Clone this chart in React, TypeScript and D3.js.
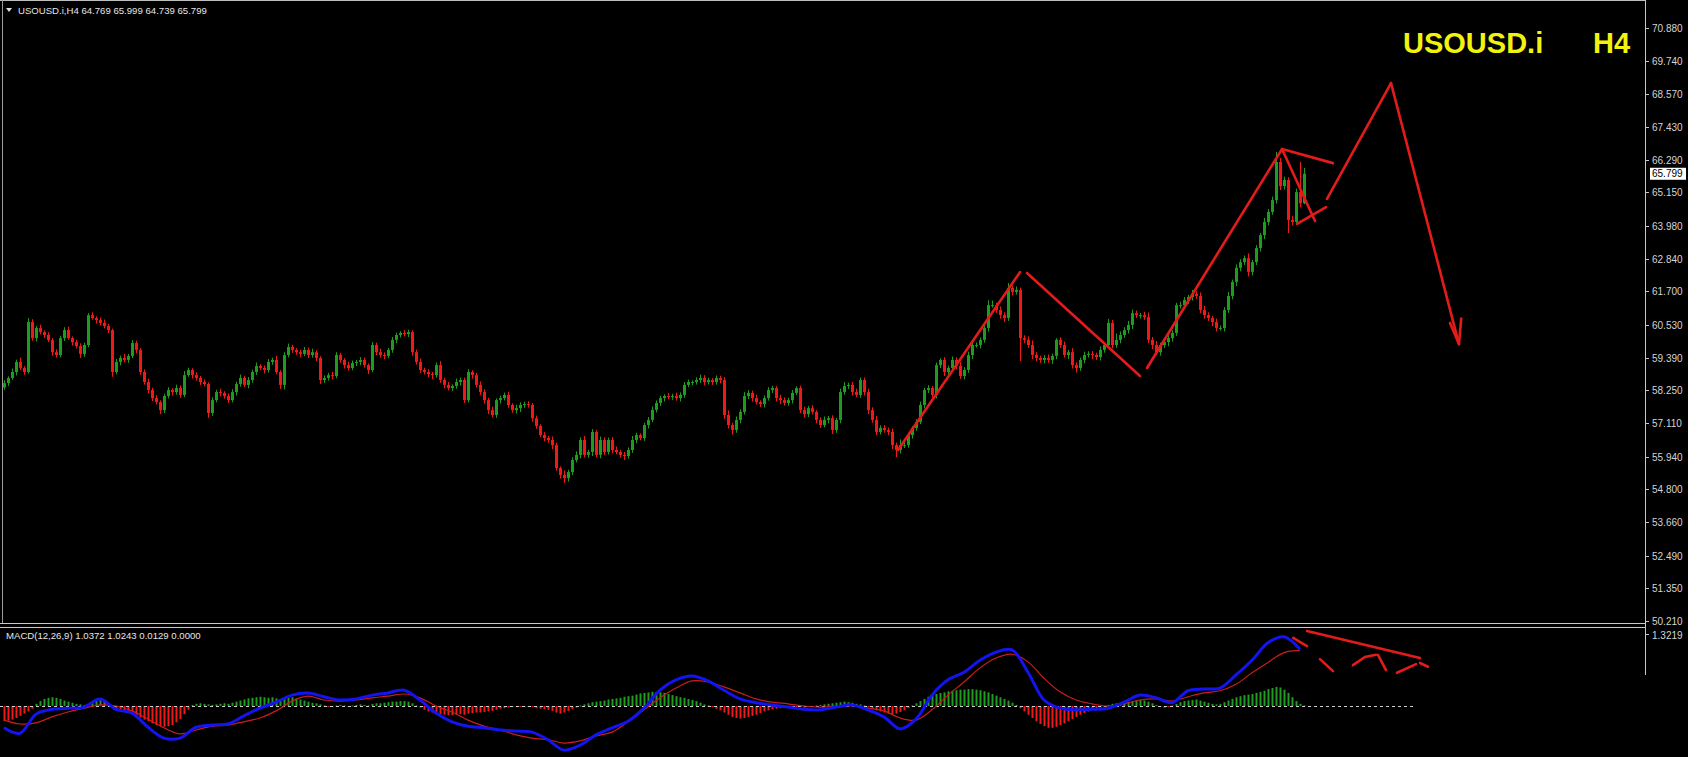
import React from "react";
import * as d3 from "d3";

const W = 1688;
const H = 757;

// ---------- DATA ----------
const symbolHeader = "USOUSD.i,H4  64.769 65.999 64.739 65.799";
const macdHeader = "MACD(12,26,9) 1.0372 1.0243 0.0129 0.0000";
const titleSymbol = "USOUSD.i";
const titleTf = "H4";
const lastPrice = 65.799;
const firstOpen = 58.35;

const closes = [
  58.50, 58.68, 58.89, 59.24, 59.03, 58.89, 60.63, 60.07, 60.42, 60.28, 60.18, 60.00, 59.58, 59.48, 60.07, 60.35, 60.07, 59.93, 59.79, 59.52,
  59.83, 60.87, 60.77, 60.70, 60.60, 60.49, 60.35, 58.89, 59.24, 59.38, 59.31, 59.45, 59.90, 59.66, 58.89, 58.54, 58.26, 57.98, 57.84, 57.56,
  58.05, 58.26, 58.19, 58.33, 58.09, 58.78, 58.96, 58.78, 58.68, 58.54, 58.47, 57.46, 57.91, 58.19, 58.16, 58.05, 57.91, 58.19, 58.47, 58.68,
  58.44, 58.61, 58.89, 59.10, 59.03, 58.96, 59.24, 59.31, 58.89, 58.44, 59.48, 59.76, 59.66, 59.58, 59.52, 59.66, 59.48, 59.58, 59.38, 58.61,
  58.68, 58.78, 58.75, 59.48, 59.31, 59.13, 59.03, 59.20, 59.24, 59.31, 59.13, 58.96, 59.83, 59.58, 59.48, 59.45, 59.66, 60.01, 60.18, 60.25,
  60.21, 60.28, 59.58, 59.24, 58.96, 58.89, 58.82, 58.78, 59.13, 58.61, 58.44, 58.33, 58.40, 58.54, 58.61, 57.91, 58.89, 58.78, 58.44, 58.19,
  57.91, 57.56, 57.39, 57.91, 57.98, 58.09, 57.74, 57.56, 57.63, 57.74, 57.77, 57.74, 57.28, 57.01, 56.69, 56.59, 56.52, 56.34, 55.54, 55.30,
  55.19, 55.40, 55.82, 56.00, 56.52, 56.00, 56.10, 56.80, 56.00, 56.52, 56.10, 56.52, 56.17, 56.10, 56.00, 55.96, 56.17, 56.52, 56.69, 56.59,
  57.04, 57.22, 57.57, 57.81, 57.98, 58.05, 58.02, 58.05, 57.98, 58.09, 58.44, 58.54, 58.54, 58.61, 58.68, 58.54, 58.61, 58.54, 58.68, 58.61,
  57.39, 57.04, 56.87, 57.22, 57.50, 58.05, 58.16, 57.98, 57.84, 57.77, 57.98, 58.26, 58.33, 57.98, 57.91, 57.81, 57.91, 58.16, 58.33, 57.56,
  57.42, 57.63, 57.50, 57.22, 57.04, 57.22, 57.28, 56.87, 57.22, 58.19, 58.40, 58.44, 58.19, 58.09, 58.61, 58.19, 57.56, 57.22, 56.80, 56.94,
  56.87, 56.80, 56.34, 56.17, 56.34, 56.34, 56.69, 56.94, 57.15, 57.74, 58.26, 58.33, 58.09, 59.13, 59.31, 58.89, 59.03, 59.31, 59.10, 58.75,
  58.96, 59.48, 59.83, 59.83, 60.01, 60.42, 61.22, 61.22, 61.05, 60.87, 60.77, 61.82, 61.68, 61.75, 60.07, 60.01, 59.83, 59.48, 59.38, 59.31,
  59.38, 59.31, 59.45, 60.01, 59.83, 59.48, 59.58, 59.13, 59.03, 59.31, 59.48, 59.52, 59.48, 59.41, 59.66, 59.83, 60.60, 59.83, 60.01, 60.18,
  60.35, 60.53, 60.94, 60.87, 60.87, 60.80, 60.01, 59.83, 59.58, 59.83, 59.93, 60.07, 60.25, 61.22, 61.22, 61.40, 61.50, 61.61, 61.54, 61.05,
  60.87, 60.77, 60.63, 60.42, 60.42, 61.05, 61.54, 62.03, 62.52, 62.72, 62.86, 62.38, 62.72, 63.21, 63.66, 64.12, 64.47, 64.88, 66.21, 65.37,
  65.58, 64.19, 64.12, 65.16, 64.77, 65.80,
];

// wick extensions beyond the body, in hundredths of a price unit
const wickUp = [
  10, 6, 12, 8, 15, 6, 14, 10, 8, 12, 6, 9, 7, 10, 8, 10, 12, 6, 8, 10,
  8, 7, 10, 6, 9, 12, 8, 5, 10, 8, 14, 7, 10, 8, 6, 9, 12, 8, 10, 6,
  8, 10, 6, 12, 9, 14, 8, 6, 10, 7, 9, 6, 10, 8, 12, 6, 9, 10, 8, 12,
  7, 10, 8, 12, 6, 9, 10, 8, 14, 6, 10, 12, 8, 6, 9, 10, 8, 12, 7, 6,
  9, 8, 12, 10, 8, 6, 12, 9, 7, 10, 8, 6, 10, 8, 12, 9, 7, 10, 8, 6,
  10, 8, 6, 9, 12, 8, 10, 7, 9, 14, 8, 10, 6, 12, 9, 8, 10, 6, 8, 12,
  10, 8, 12, 6, 9, 8, 10, 6, 12, 9, 8, 10, 7, 9, 6, 10, 8, 12, 9, 6,
  16, 8, 10, 12, 9, 14, 8, 10, 6, 12, 9, 8, 10, 12, 8, 10, 9, 14, 8, 6,
  8, 10, 12, 9, 8, 6, 10, 8, 12, 9, 10, 8, 6, 9, 12, 10, 8, 6, 9, 8,
  10, 16, 8, 12, 9, 14, 10, 8, 12, 6, 9, 10, 8, 7, 12, 9, 8, 10, 6, 8,
  12, 8, 10, 6, 9, 12, 8, 10, 7, 12, 14, 8, 10, 12, 9, 8, 12, 10, 14, 9,
  10, 8, 12, 9, 20, 10, 8, 6, 9, 12, 8, 10, 7, 9, 6, 10, 8, 12, 9, 14,
  10, 12, 14, 9, 8, 12, 17, 16, 8, 12, 10, 17, 9, 12, 8, 10, 12, 16, 10, 8,
  10, 12, 8, 6, 9, 12, 8, 14, 10, 8, 12, 9, 10, 8, 12, 9, 14, 10, 22, 12,
  10, 14, 12, 9, 8, 12, 16, 10, 14, 8, 12, 10, 9, 8, 12, 10, 8, 14, 10, 12,
  14, 10, 8, 12, 9, 10, 14, 8, 12, 10, 9, 16, 8, 10, 8, 14, 10, 12, 35, 14,
  12, 10, 14, 12, 105, 20,
];
const wickDn = [
  8, 10, 6, 12, 8, 10, 6, 9, 12, 8, 10, 7, 12, 9, 8, 10, 6, 12, 8, 14,
  10, 8, 6, 12, 9, 8, 10, 17, 8, 12, 9, 10, 8, 12, 10, 9, 12, 10, 8, 14,
  10, 8, 12, 9, 10, 8, 6, 12, 9, 10, 8, 17, 10, 8, 12, 9, 10, 8, 12, 9,
  8, 12, 9, 10, 8, 12, 9, 10, 8, 14, 16, 8, 10, 9, 12, 8, 10, 9, 12, 14,
  10, 9, 12, 8, 10, 12, 9, 8, 10, 12, 9, 14, 8, 10, 9, 12, 8, 10, 12, 9,
  8, 10, 12, 9, 10, 8, 12, 14, 9, 10, 12, 8, 10, 9, 12, 10, 8, 12, 9, 10,
  12, 14, 9, 10, 12, 8, 10, 9, 12, 14, 10, 9, 12, 10, 8, 12, 10, 14, 9, 12,
  17, 12, 10, 8, 12, 9, 10, 14, 8, 12, 10, 9, 12, 8, 10, 14, 9, 10, 12, 8,
  10, 12, 8, 9, 10, 12, 8, 10, 9, 12, 10, 8, 12, 9, 10, 12, 8, 10, 9, 12,
  14, 12, 16, 10, 12, 9, 10, 12, 8, 10, 12, 9, 10, 12, 14, 9, 10, 12, 8, 10,
  12, 10, 9, 12, 10, 8, 12, 14, 10, 12, 9, 10, 12, 8, 10, 12, 14, 10, 12, 9,
  10, 12, 14, 25, 12, 10, 9, 12, 10, 8, 12, 10, 9, 12, 10, 14, 12, 9, 12, 10,
  12, 10, 14, 9, 12, 10, 12, 9, 10, 12, 14, 10, 12, 9, 80, 12, 10, 14, 12, 10,
  12, 10, 14, 12, 10, 9, 14, 12, 16, 10, 12, 9, 14, 10, 12, 10, 14, 12, 10, 12,
  10, 12, 14, 10, 12, 9, 12, 14, 10, 12, 10, 14, 12, 10, 12, 9, 14, 12, 10, 12,
  12, 10, 14, 12, 9, 12, 10, 12, 14, 12, 10, 16, 12, 10, 12, 14, 12, 10, 12, 14,
  12, 46, 12, 10, 14, 3,
];

// MACD main (blue) and signal (red), one value every 4 bars
const macdStep = 4;
const macdMain = [
  -0.40, -0.50, -0.15, -0.06, -0.04, -0.02, 0.13, -0.06, -0.13, -0.39,
  -0.59, -0.59, -0.39, -0.35, -0.33, -0.18, -0.04, 0.07, 0.20, 0.24,
  0.17, 0.11, 0.13, 0.20, 0.24, 0.29, 0.11, -0.13, -0.29, -0.37,
  -0.40, -0.44, -0.46, -0.48, -0.62, -0.81, -0.72, -0.53, -0.40, -0.28,
  -0.04, 0.29, 0.48, 0.55, 0.46, 0.29, 0.13, 0.06, 0.02, -0.02,
  -0.06, -0.07, -0.02, 0.02, -0.07, -0.20, -0.42, -0.24, 0.20, 0.48,
  0.62, 0.84, 0.99, 1.03, 0.62, 0.11, -0.04, -0.07, -0.06, -0.04,
  0.07, 0.20, 0.15, 0.06, 0.28, 0.31, 0.33, 0.57, 0.84, 1.16,
  1.27, 1.04,
];
const macdSignal = [
  -0.26, -0.33, -0.31, -0.20, -0.11, -0.04, 0.02, 0.00, -0.09, -0.24,
  -0.40, -0.51, -0.44, -0.37, -0.35, -0.29, -0.22, -0.09, 0.09, 0.18,
  0.11, 0.09, 0.11, 0.15, 0.18, 0.22, 0.15, 0.00, -0.11, -0.26,
  -0.37, -0.44, -0.53, -0.59, -0.62, -0.68, -0.64, -0.55, -0.48, -0.29,
  -0.07, 0.15, 0.33, 0.46, 0.44, 0.35, 0.24, 0.13, 0.07, 0.04,
  0.00, -0.02, 0.00, 0.00, -0.04, -0.09, -0.22, -0.26, -0.07, 0.20,
  0.44, 0.70, 0.88, 0.95, 0.81, 0.51, 0.26, 0.11, 0.04, 0.00,
  0.04, 0.11, 0.13, 0.09, 0.17, 0.24, 0.28, 0.40, 0.61, 0.80,
  0.98, 1.02,
];
const macdHist = [
  -0.28, -0.27, -0.25, -0.22, -0.18, -0.14, -0.10, -0.05, 0.04, 0.09, 0.13, 0.15, 0.16, 0.15, 0.13, 0.10, 0.08, 0.06, 0.04, 0.03,
  0.02, 0.04, 0.08, 0.11, 0.12, 0.10, 0.05, -0.03, -0.06, -0.09, -0.11, -0.13, -0.15, -0.18, -0.21, -0.25, -0.28, -0.32, -0.35, -0.37,
  -0.38, -0.37, -0.35, -0.30, -0.24, -0.15, -0.07, 0.02, 0.04, 0.05, 0.04, 0.03, 0.02, 0.03, 0.04, 0.05, 0.04, 0.06, 0.08, 0.10,
  0.12, 0.14, 0.15, 0.16, 0.17, 0.16, 0.15, 0.16, 0.14, 0.12, 0.13, 0.15, 0.16, 0.14, 0.12, 0.10, 0.08, 0.06, 0.05, 0.03,
  0.01, -0.01, -0.02, 0.01, 0.02, 0.01, 0.00, 0.01, 0.02, 0.03, 0.02, 0.01, 0.04, 0.05, 0.05, 0.06, 0.07, 0.08, 0.08, 0.09,
  0.09, 0.08, 0.05, 0.01, -0.03, -0.07, -0.10, -0.12, -0.13, -0.15, -0.16, -0.17, -0.17, -0.16, -0.15, -0.16, -0.14, -0.13, -0.12, -0.12,
  -0.11, -0.10, -0.09, -0.07, -0.05, -0.04, -0.03, -0.02, -0.02, -0.01, -0.01, 0.00, -0.02, -0.04, -0.05, -0.06, -0.07, -0.09, -0.12, -0.14,
  -0.12, -0.09, -0.06, -0.03, 0.01, 0.03, 0.05, 0.07, 0.08, 0.09, 0.10, 0.12, 0.13, 0.14, 0.15, 0.17, 0.18, 0.19, 0.21, 0.23,
  0.24, 0.25, 0.26, 0.26, 0.25, 0.24, 0.22, 0.20, 0.18, 0.16, 0.15, 0.13, 0.11, 0.09, 0.06, 0.03, 0.01, -0.02, -0.05, -0.08,
  -0.12, -0.16, -0.20, -0.22, -0.23, -0.22, -0.20, -0.18, -0.16, -0.13, -0.10, -0.08, -0.06, -0.05, -0.04, -0.03, -0.02, -0.02, -0.01, -0.02,
  -0.03, -0.02, -0.01, 0.01, 0.02, 0.03, 0.04, 0.05, 0.06, 0.07, 0.08, 0.07, 0.06, 0.04, 0.03, 0.01, -0.02, -0.05, -0.08, -0.10,
  -0.12, -0.14, -0.15, -0.14, -0.11, -0.08, -0.04, 0.01, 0.05, 0.09, 0.13, 0.17, 0.19, 0.22, 0.24, 0.25, 0.27, 0.28, 0.29, 0.30,
  0.30, 0.31, 0.31, 0.30, 0.29, 0.27, 0.25, 0.22, 0.19, 0.16, 0.13, 0.10, 0.06, 0.02, -0.04, -0.10, -0.16, -0.22, -0.28, -0.33,
  -0.37, -0.40, -0.40, -0.38, -0.35, -0.32, -0.28, -0.24, -0.20, -0.16, -0.13, -0.10, -0.07, -0.05, -0.03, -0.01, 0.02, 0.04, 0.05, 0.06,
  0.07, 0.08, 0.09, 0.10, 0.11, 0.10, 0.08, 0.05, 0.02, -0.01, -0.03, -0.02, 0.01, 0.04, 0.07, 0.09, 0.10, 0.11, 0.12, 0.10,
  0.08, 0.06, 0.04, 0.03, 0.04, 0.07, 0.10, 0.13, 0.16, 0.18, 0.20, 0.21, 0.22, 0.24, 0.26, 0.28, 0.31, 0.33, 0.35, 0.34,
  0.30, 0.24, 0.16, 0.09, 0.04, 0.01,
];

const priceTicks = [
  "70.880", "69.740", "68.570", "67.430", "66.290", "65.150", "63.980", "62.840", "61.700", "60.530",
  "59.390", "58.250", "57.110", "55.940", "54.800", "53.660", "52.490", "51.350", "50.210",
];
const macdTop = 1.3219;

// hand-drawn trend lines on the price chart: [bar index, price]
const priceDrawings: [number, number][][] = [
  [[223.5, 56.17], [254, 62.37]],
  [[255.75, 62.34], [284, 58.75]],
  [[285.75, 59.03], [319.5, 66.66]],
  [[319.5, 66.66], [332.25, 66.17]],
  [[319.5, 66.66], [327.75, 64.15]],
  [[323.25, 64.05], [330.5, 64.64]],
  [[330.75, 64.92], [346.75, 68.96]],
  [[346.75, 68.96], [363.75, 59.86]],
  [[361.5, 60.6], [363.75, 59.86], [364.3, 60.75]],
];
// hand-drawn lines on the MACD window: [bar index, macd]
const macdDrawings: [number, number][][] = [
  [[322.3, 1.25], [325.75, 1.10]],
  [[325.75, 1.377], [354, 0.88]],
  [[329, 0.86], [332.25, 0.64]],
  [[337.25, 0.75], [340.25, 0.90], [343, 0.94]],
  [[343.5, 0.94], [345.5, 0.66]],
  [[348.25, 0.61], [353, 0.77]],
  [[354, 0.79], [356, 0.72]],
];

// ---------- LAYOUT ----------
const plotRight = 1645;
const mainTop = 28;
const mainBottom = 621;
const sepY1 = 623.5;
const sepY2 = 627.5;
const zeroY = 706;
const macdTopY = 634;

const GREEN = "#1f9b1f";
const RED = "#ee1a1a";
const AXIS_TXT = "#d4d4d4";
const FONT = "'Liberation Sans', Arial, sans-serif";

export default function App() {
  const x = d3.scaleLinear().domain([0, 1]).range([4, 8]);
  const y = d3.scaleLinear().domain([50.21, 70.88]).range([mainBottom, mainTop]);
  const ym = d3.scaleLinear().domain([0, macdTop]).range([zeroY, macdTopY]);

  const candles = closes.map((c, i) => {
    const o = i === 0 ? firstOpen : closes[i - 1];
    const top = Math.max(o, c);
    const bot = Math.min(o, c);
    return { i, o, c, h: top + wickUp[i] / 100, l: bot - wickDn[i] / 100 };
  });

  const lineMain = d3
    .line<number>()
    .x((_, k) => x(k * macdStep))
    .y((v) => ym(v))
    .curve(d3.curveCatmullRom.alpha(0.5));

  const drawLine = d3.line<[number, number]>();

  return (
    <svg
      width={W}
      height={H}
      style={{ position: "absolute", left: 0, top: 0, background: "#000", display: "block" }}
      fontFamily={FONT}
    >
      <rect x={0} y={0} width={W} height={H} fill="#000" />

      {/* frames */}
      <line x1={0} x2={plotRight} y1={0.5} y2={0.5} stroke="#bdbdbd" strokeWidth={1} />
      <line x1={2.5} x2={2.5} y1={0} y2={sepY1} stroke="#9a9a9a" strokeWidth={1} />
      <line x1={plotRight + 0.5} x2={plotRight + 0.5} y1={0} y2={675} stroke="#c8c8c8" strokeWidth={1} />
      <line x1={0} x2={plotRight} y1={sepY1} y2={sepY1} stroke="#c8c8c8" strokeWidth={1.2} />
      <line x1={0} x2={plotRight} y1={sepY2} y2={sepY2} stroke="#c8c8c8" strokeWidth={1.2} />

      {/* header */}
      <path d="M6,8 L12,8 L9,12 Z" fill="#e0e0e0" />
      <text x={18} y={14} fontSize={9.6} fill="#e6e6e6">
        {symbolHeader}
      </text>

      {/* price axis */}
      {priceTicks.map((t) => {
        const yy = Math.round(y(+t)) + 0.5;
        return (
          <g key={t}>
            <line x1={plotRight} x2={plotRight + 4} y1={yy} y2={yy} stroke="#c8c8c8" />
            <text x={1652} y={yy + 3.5} fontSize={10} fill={AXIS_TXT}>
              {t}
            </text>
          </g>
        );
      })}
      <rect x={1650} y={y(lastPrice) - 6} width={36} height={12} fill="#fff" />
      <text x={1652} y={y(lastPrice) + 3.5} fontSize={10} fill="#000">
        {lastPrice.toFixed(3)}
      </text>

      {/* candles */}
      {candles.map((d) => {
        const cx = x(d.i);
        const up = d.c >= d.o;
        const col = up ? GREEN : RED;
        const yTop = y(Math.max(d.o, d.c));
        const yBot = y(Math.min(d.o, d.c));
        return (
          <g key={d.i}>
            <line x1={cx + 0.5} x2={cx + 0.5} y1={y(d.h)} y2={y(d.l)} stroke={col} strokeWidth={1} />
            <rect x={cx - 1} y={yTop} width={3} height={Math.max(1, yBot - yTop)} fill={col} />
          </g>
        );
      })}

      {/* drawings on price */}
      {priceDrawings.map((pts, k) => (
        <path
          key={k}
          d={drawLine(pts.map(([i, p]) => [x(i), y(p)]) as [number, number][]) || ""}
          stroke="#e31b1b"
          strokeWidth={2.6}
          fill="none"
          strokeLinecap="round"
          strokeLinejoin="round"
        />
      ))}

      {/* title */}
      <text x={1403} y={53} fontSize={29} fontWeight="bold" fill="#f2f20f">
        {titleSymbol}
      </text>
      <text x={1593} y={53} fontSize={29} fontWeight="bold" fill="#f2f20f">
        {titleTf}
      </text>

      {/* MACD window */}
      <text x={6} y={639} fontSize={9.6} fill="#e6e6e6">
        {macdHeader}
      </text>
      <line x1={plotRight} x2={plotRight + 4} y1={macdTopY + 0.5} y2={macdTopY + 0.5} stroke="#c8c8c8" />
      <text x={1652} y={macdTopY + 5} fontSize={10} fill={AXIS_TXT}>
        {macdTop.toFixed(4)}
      </text>

      {macdHist.map((v, i) => {
        const y0 = ym(0);
        const y1 = ym(v);
        return (
          <rect
            key={i}
            x={x(i) - 0.5}
            y={Math.min(y0, y1)}
            width={2}
            height={Math.max(1, Math.abs(y1 - y0))}
            fill={v >= 0 ? GREEN : RED}
          />
        );
      })}
      <line x1={0} x2={1413} y1={zeroY + 0.5} y2={zeroY + 0.5} stroke="#cfcfcf" strokeWidth={1} strokeDasharray="3,3" />

      <path d={lineMain(macdSignal) || ""} stroke="#c81e1e" strokeWidth={1.2} fill="none" />
      <path d={lineMain(macdMain) || ""} stroke="#1414f0" strokeWidth={3} fill="none" strokeLinejoin="round" />

      {macdDrawings.map((pts, k) => (
        <path
          key={k}
          d={drawLine(pts.map(([i, v]) => [x(i), ym(v)]) as [number, number][]) || ""}
          stroke="#e31b1b"
          strokeWidth={2.6}
          fill="none"
          strokeLinecap="round"
        />
      ))}
    </svg>
  );
}
